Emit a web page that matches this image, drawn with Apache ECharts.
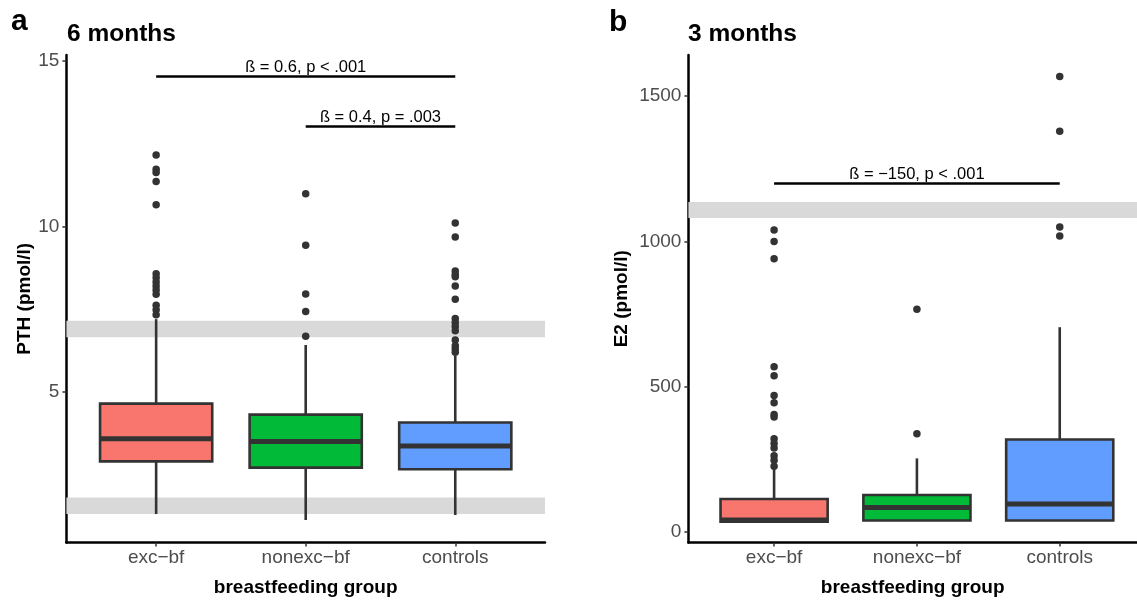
<!DOCTYPE html>
<html>
<head>
<meta charset="utf-8">
<title>PTH and E2 by breastfeeding group</title>
<script src="https://cdn.jsdelivr.net/npm/echarts@6/dist/echarts.min.js"></script>
<style>
  html, body { margin: 0; padding: 0; background: #fff; width: 1137px; height: 602px; overflow: hidden; }
  #chart { width: 1137px; height: 602px; }
</style>
</head>
<body>
<div id="chart"></div>
<script>
// groups on the x axis (positions 1, 2, 3)
const categories = ['exc−bf', 'nonexc−bf', 'controls'];
const groupPos = [1, 2, 3];

// panel a: PTH at 6 months -- [min, Q1, median, Q3, max]
const pthBoxes = [
  [1.32, 2.91, 3.59, 4.65, 7.2],
  [1.14, 2.72, 3.51, 4.32, 6.42],
  [1.29, 2.67, 3.37, 4.08, 6.1]
];
const pthOutliers = [
  [12.15, 11.72, 11.62, 11.35, 10.65, 8.57, 8.45, 8.32, 8.2, 8.08, 7.95, 7.62, 7.48, 7.33],
  [10.98, 9.43, 7.96, 7.43, 6.68],
  [10.1, 9.68, 8.65, 8.55, 8.48, 8.2, 7.8, 7.22, 7.1, 6.98, 6.85, 6.57, 6.4, 6.3, 6.2]
];
const pthBands = [[1.32, 1.82], [6.65, 7.15]];
const pthTicks = [5, 10, 15];
const pthBracketFrom = [1, 2];
const pthBracketTo = [3, 3];
const pthBracketY = [14.52, 13.01];
const pthBracketLabels = ['ß = 0.6, p < .001', 'ß = 0.4, p = .003'];

// panel b: E2 at 3 months
const e2Boxes = [
  [34, 34, 40, 112, 217],
  [37, 38, 83, 126, 252],
  [37, 38, 95, 317, 704]
];
const e2Outliers = [
  [1039, 999, 940, 568, 537, 469, 444, 403, 395, 320, 303, 288, 261, 246, 225],
  [766, 337],
  [1568, 1379, 1049, 1018]
];
const e2Bands = [[1080, 1135]];
const e2Ticks = [0, 500, 1000, 1500];
const e2BracketFrom = [1];
const e2BracketTo = [3];
const e2BracketY = [1199];
const e2BracketLabels = ['ß = −150, p < .001'];

const fills = ['#F8766D', '#00BA38', '#619CFF'];
const ink = '#333333';
const FONT = '"Liberation Sans", Arial, Helvetica, sans-serif';

const chart = echarts.init(document.getElementById('chart'));

function boxRows(boxes) {
  return boxes.map((b, i) => [groupPos[i]].concat(b));
}
function outlierRows(outs) {
  const rows = [];
  outs.forEach((list, i) => list.forEach(v => rows.push([groupPos[i], v])));
  return rows;
}
function bracketRows(from, to, ys) {
  return from.map((f, i) => [f, to[i], ys[i]]);
}

function renderBox(params, api) {
  const x = api.value(0);
  const pMin = api.coord([x, api.value(1)]);
  const pQ1 = api.coord([x, api.value(2)]);
  const pMed = api.coord([x, api.value(3)]);
  const pQ3 = api.coord([x, api.value(4)]);
  const pMax = api.coord([x, api.value(5)]);
  const left = api.coord([x - 0.375, api.value(3)])[0];
  const right = api.coord([x + 0.375, api.value(3)])[0];
  return {
    type: 'group',
    children: [
      { type: 'line', shape: { x1: pMed[0], y1: pMin[1], x2: pMed[0], y2: pQ1[1] },
        style: { stroke: ink, lineWidth: 2.6 } },
      { type: 'line', shape: { x1: pMed[0], y1: pQ3[1], x2: pMed[0], y2: pMax[1] },
        style: { stroke: ink, lineWidth: 2.6 } },
      { type: 'rect', shape: { x: left, y: pQ3[1], width: right - left, height: pQ1[1] - pQ3[1] },
        style: { fill: fills[params.dataIndex], stroke: ink, lineWidth: 2.6 } },
      { type: 'line', shape: { x1: left, y1: pMed[1], x2: right, y2: pMed[1] },
        style: { stroke: ink, lineWidth: 5 } }
    ]
  };
}

function renderBand(params, api) {
  const cs = params.coordSys;
  const top = api.coord([1, api.value(1)])[1];
  const bottom = api.coord([1, api.value(0)])[1];
  return {
    type: 'rect',
    shape: { x: cs.x, y: top, width: cs.width, height: bottom - top },
    style: { fill: '#D9D9D9' }
  };
}

function makeBracketRenderer(labels) {
  return function (params, api) {
    const a = api.coord([api.value(0), api.value(2)]);
    const b = api.coord([api.value(1), api.value(2)]);
    return {
      type: 'group',
      children: [
        { type: 'line', shape: { x1: a[0], y1: a[1], x2: b[0], y2: b[1] },
          style: { stroke: '#000', lineWidth: 2.6 } },
        { type: 'text',
          style: { text: labels[params.dataIndex], x: (a[0] + b[0]) / 2, y: a[1] - 1,
            align: 'center', verticalAlign: 'bottom', fill: '#000', font: '16.5px ' + FONT } }
      ]
    };
  };
}

function xAxisFor(gridIndex, max) {
  return {
    type: 'value', gridIndex: gridIndex, min: 0.4, max: max,
    name: 'breastfeeding group', nameLocation: 'middle', nameGap: 35.5,
    nameTextStyle: { fontFamily: FONT, fontWeight: 'bold', fontSize: 19, color: '#000' },
    axisLine: { onZero: false, lineStyle: { color: '#000', width: 2.5 } },
    axisTick: { customValues: groupPos, length: 4, lineStyle: { color: ink, width: 1.5 } },
    axisLabel: {
      customValues: groupPos, margin: 6,
      formatter: v => categories[Math.round(v) - 1] || '',
      fontFamily: FONT, fontSize: 19, color: '#4D4D4D'
    },
    splitLine: { show: false }
  };
}

function yAxisFor(gridIndex, min, max, ticks, name, gap) {
  return {
    type: 'value', gridIndex: gridIndex, min: min, max: max,
    name: name, nameLocation: 'middle', nameGap: gap, nameRotate: 90,
    nameTextStyle: { fontFamily: FONT, fontWeight: 'bold', fontSize: 19, color: '#000' },
    axisLine: { show: true, lineStyle: { color: '#000', width: 2.5 } },
    axisTick: { show: true, customValues: ticks, length: 4, lineStyle: { color: ink, width: 1.5 } },
    axisLabel: {
      customValues: ticks, margin: 7, formatter: v => String(v),
      fontFamily: FONT, fontSize: 19, color: '#4D4D4D'
    },
    splitLine: { show: false }
  };
}

function titleText(text, x, y, size) {
  return {
    type: 'text', x: x, y: y,
    style: { text: text, font: 'bold ' + size + 'px ' + FONT, fill: '#000', verticalAlign: 'middle' }
  };
}

const option = {
  animation: false,
  backgroundColor: '#fff',
  graphic: [
    titleText('a', 11, 22, 30),
    titleText('6 months', 67, 34, 24.5),
    titleText('b', 609, 23, 30),
    titleText('3 months', 688, 34, 24.5)
  ],
  grid: [
    { left: 66.4, top: 55, width: 478.6, height: 489.3 },
    { left: 688.4, top: 55, width: 448.6, height: 489.3 }
  ],
  xAxis: [xAxisFor(0, 3.6), xAxisFor(1, 3.541)],
  yAxis: [
    yAxisFor(0, 0.4614, 15.168, pthTicks, 'PTH (pmol/l)', 32),
    yAxisFor(1, -37.8, 1641.9, e2Ticks, 'E2 (pmol/l)', 57)
  ],
  series: [
    // panel a
    { type: 'custom', xAxisIndex: 0, yAxisIndex: 0, z: 1, silent: true,
      renderItem: renderBand, data: pthBands, encode: { y: [0, 1] } },
    { type: 'custom', xAxisIndex: 0, yAxisIndex: 0, z: 2, silent: true,
      renderItem: renderBox, data: boxRows(pthBoxes), encode: { x: 0, y: [1, 2, 3, 4, 5] } },
    { type: 'scatter', xAxisIndex: 0, yAxisIndex: 0, z: 3, symbolSize: 7.5,
      itemStyle: { color: ink, opacity: 1 }, data: outlierRows(pthOutliers) },
    { type: 'custom', xAxisIndex: 0, yAxisIndex: 0, z: 4, silent: true,
      renderItem: makeBracketRenderer(pthBracketLabels),
      data: bracketRows(pthBracketFrom, pthBracketTo, pthBracketY), encode: { x: [0, 1], y: 2 } },
    // panel b
    { type: 'custom', xAxisIndex: 1, yAxisIndex: 1, z: 1, silent: true,
      renderItem: renderBand, data: e2Bands, encode: { y: [0, 1] } },
    { type: 'custom', xAxisIndex: 1, yAxisIndex: 1, z: 2, silent: true,
      renderItem: renderBox, data: boxRows(e2Boxes), encode: { x: 0, y: [1, 2, 3, 4, 5] } },
    { type: 'scatter', xAxisIndex: 1, yAxisIndex: 1, z: 3, symbolSize: 7.5,
      itemStyle: { color: ink, opacity: 1 }, data: outlierRows(e2Outliers) },
    { type: 'custom', xAxisIndex: 1, yAxisIndex: 1, z: 4, silent: true,
      renderItem: makeBracketRenderer(e2BracketLabels),
      data: bracketRows(e2BracketFrom, e2BracketTo, e2BracketY), encode: { x: [0, 1], y: 2 } }
  ]
};

chart.setOption(option);
</script>
</body>
</html>
